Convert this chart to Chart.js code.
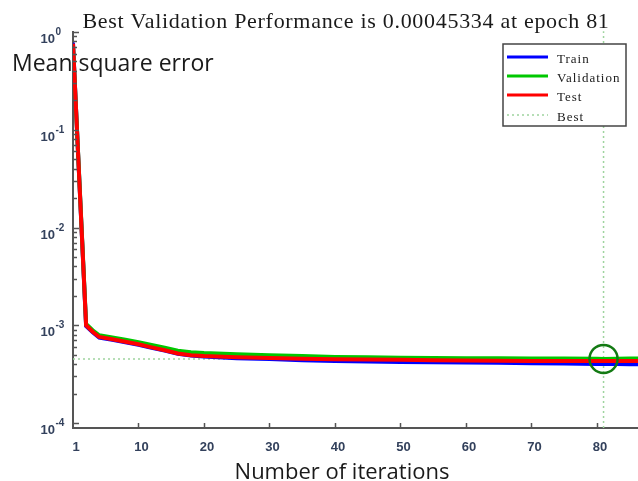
<!DOCTYPE html>
<html>
<head>
<meta charset="utf-8">
<script src="https://cdn.jsdelivr.net/npm/chart.js@4.4.0/dist/chart.umd.min.js"></script>
<style>
  html, body { margin: 0; padding: 0; background: #fff; }
  #wrap { width: 638px; height: 481px; position: relative; }
</style>
</head>
<body>
<div id="wrap"><canvas id="perf" width="638" height="481"></canvas></div>
<script>
// ---- Daten ----
const TITLE   = "Best Validation Performance is 0.00045334 at epoch 81";
const Y_TITLE = "Mean square error";
const X_TITLE = "Number of iterations";

const epochs = [0, 1, 2, 3, 4, 6, 8, 10, 12, 14, 16, 18, 20, 25, 30, 35, 40, 45, 50, 55, 60, 65, 70, 75, 80, 81, 83, 85, 87];
const train  = [0.78, 0.027, 9.8e-4, 8.5e-4, 7.5e-4, 7.1e-4, 6.7e-4, 6.3e-4, 5.9e-4, 5.5e-4, 5.1e-4, 4.9e-4, 4.8e-4, 4.6e-4, 4.52e-4, 4.4e-4, 4.3e-4, 4.25e-4, 4.21e-4, 4.19e-4, 4.16e-4, 4.13e-4, 4.1e-4, 4.06e-4, 4.02e-4, 4.02e-4, 4.01e-4, 4.0e-4, 4.0e-4];
const valid  = [0.74, 0.028, 1.03e-3, 8.9e-4, 7.9e-4, 7.5e-4, 7.1e-4, 6.7e-4, 6.3e-4, 5.9e-4, 5.5e-4, 5.3e-4, 5.2e-4, 5.05e-4, 4.95e-4, 4.85e-4, 4.75e-4, 4.7e-4, 4.66e-4, 4.64e-4, 4.6e-4, 4.59e-4, 4.58e-4, 4.57e-4, 4.56e-4, 4.5334e-4, 4.56e-4, 4.57e-4, 4.58e-4];
const test   = [0.76, 0.027, 1.0e-3, 8.6e-4, 7.6e-4, 7.2e-4, 6.8e-4, 6.4e-4, 5.95e-4, 5.55e-4, 5.15e-4, 4.95e-4, 4.85e-4, 4.7e-4, 4.62e-4, 4.56e-4, 4.5e-4, 4.47e-4, 4.44e-4, 4.4e-4, 4.36e-4, 4.34e-4, 4.32e-4, 4.31e-4, 4.31e-4, 4.31e-4, 4.31e-4, 4.3e-4, 4.3e-4];

const bestEpoch = 81;
const bestPerf  = 0.00045334;

const xTickValues = [0, 10, 20, 30, 40, 50, 60, 70, 80];
const xTickLabels = ["1", "10", "20", "30", "40", "50", "60", "70", "80"];
const yTickValues = [1e-4, 1e-3, 1e-2, 1e-1, 1];
const yTickExps   = ["-4", "-3", "-2", "-1", "0"];

const pts = (ys) => epochs.map((e, i) => ({ x: e, y: ys[i] }));

// ---- Plugins ----
const AXIS_COL = "#555";
const TICK_COL = "#33415c";

const innerTicks = {
  id: "innerTicks",
  afterDatasetsDraw(chart) {
    const { ctx, chartArea: a, scales: { x, y } } = chart;
    ctx.save();
    ctx.strokeStyle = AXIS_COL;
    ctx.lineWidth = 1.5;
    ctx.beginPath();
    // y: Haupt- und Nebenstriche nach innen
    for (let d = -4; d <= 0; d++) {
      for (let k = 1; k <= 9; k++) {
        const v = k * Math.pow(10, d);
        if (v > 1.0001) break;
        const py = Math.round(y.getPixelForValue(v)) + 0.5;
        ctx.moveTo(a.left, py);
        ctx.lineTo(a.left + (k === 1 ? 6 : 4), py);
      }
    }
    // x: Striche nach oben
    xTickValues.slice(1).forEach(v => {
      const px = Math.round(x.getPixelForValue(v)) + 0.5;
      ctx.moveTo(px, a.bottom);
      ctx.lineTo(px, a.bottom - 5);
    });
    ctx.stroke();

    // y-Beschriftung mit Hochzahl
    ctx.fillStyle = TICK_COL;
    yTickValues.forEach((v, i) => {
      const py = y.getPixelForValue(v);
      ctx.font = "bold 13px 'Liberation Sans'";
      ctx.textAlign = "right";
      ctx.textBaseline = "alphabetic";
      ctx.fillText("10", 55, py + 11);
      ctx.font = "bold 10px 'Liberation Sans'";
      ctx.textAlign = "left";
      ctx.fillText(yTickExps[i], 55.5, py + 3);
    });
    ctx.restore();
  }
};

const decorations = {
  id: "decorations",
  afterDraw(chart) {
    const { ctx } = chart;
    ctx.save();
    ctx.fillStyle = "#1a1a1a";
    ctx.textBaseline = "alphabetic";

    ctx.font = "22px 'Liberation Serif'";
    ctx.letterSpacing = "0.7px";
    ctx.textAlign = "center";
    ctx.fillText(TITLE, 346, 28);
    ctx.letterSpacing = "0px";

    ctx.font = "23px 'Open Sans'";
    ctx.textAlign = "left";
    ctx.fillText(Y_TITLE, 12, 71);

    ctx.font = "22px 'Open Sans'";
    ctx.textAlign = "center";
    ctx.fillText(X_TITLE, 342, 479);

    // Legende
    const bx = 503, by = 44, bw = 123, bh = 82;
    ctx.fillStyle = "#fff";
    ctx.fillRect(bx, by, bw, bh);
    ctx.strokeStyle = "#444";
    ctx.lineWidth = 1.5;
    ctx.strokeRect(bx, by, bw, bh);

    const rows = [57, 76, 95, 115];
    const items = [chart.data.datasets[2], chart.data.datasets[1], chart.data.datasets[0], chart.data.datasets[3]];
    items.forEach((ds, i) => {
      const ly = rows[i];
      ctx.beginPath();
      ctx.strokeStyle = ds.borderColor;
      ctx.lineWidth = i === 3 ? 1.5 : 3;
      ctx.setLineDash(i === 3 ? [2, 3] : []);
      ctx.moveTo(507, ly);
      ctx.lineTo(548, ly);
      ctx.stroke();
      ctx.setLineDash([]);
      ctx.fillStyle = "#1a1a1a";
      ctx.font = "13px 'Liberation Serif'";
      ctx.letterSpacing = "1px";
      ctx.textAlign = "left";
      ctx.textBaseline = "middle";
      ctx.fillText(ds.label, 557, ly + 3);
    });
    ctx.restore();
  }
};

// ---- Chart ----
const ctx = document.getElementById("perf").getContext("2d");
new Chart(ctx, {
  type: "line",
  data: {
    datasets: [
      { label: "Test", data: pts(test), borderColor: "#ff0000", borderWidth: 4, order: 1 },
      { label: "Validation", data: pts(valid), borderColor: "#00c800", borderWidth: 4, order: 2 },
      { label: "Train", data: pts(train), borderColor: "#0000ff", borderWidth: 4, order: 3 },
      { label: "Best", data: [{ x: 0, y: bestPerf }, { x: 87, y: bestPerf }],
        borderColor: "#9ed49e", borderWidth: 1.5, borderDash: [2, 3], order: 5 },
      { label: "BestV", data: [{ x: bestEpoch, y: 8.9e-5 }, { x: bestEpoch, y: 1.02 }],
        borderColor: "#9ed49e", borderWidth: 1.5, borderDash: [2, 3], order: 5, clip: false },
      { label: "BestP", data: [{ x: bestEpoch, y: bestPerf }], showLine: false,
        pointRadius: 14, pointBorderWidth: 2.5, pointBorderColor: "#137a13",
        pointBackgroundColor: "rgba(0,0,0,0)", order: 0 }
    ]
  },
  options: {
    responsive: false,
    animation: false,
    parsing: false,
    layout: { autoPadding: false, padding: { top: 32, left: 0, right: 0, bottom: 0 } },
    elements: { point: { radius: 0 }, line: { tension: 0 } },
    plugins: { legend: { display: false }, tooltip: { enabled: false } },
    scales: {
      x: {
        type: "linear", min: 0, max: 86.26,
        afterBuildTicks: (s) => { s.ticks = xTickValues.map(v => ({ value: v })); },
        afterFit: (s) => { s.height = 53; s.paddingRight = 0; },
        grid: { display: false, drawTicks: false },
        border: { display: true, color: AXIS_COL, width: 2 },
        ticks: {
          callback: (v) => xTickLabels[xTickValues.indexOf(v)],
          font: { family: "'Liberation Sans'", size: 13, weight: "bold" },
          color: TICK_COL, padding: 12, labelOffset: 3, maxRotation: 0
        }
      },
      y: {
        type: "logarithmic", min: 8.9e-5, max: 1,
        afterBuildTicks: (s) => { s.ticks = yTickValues.map(v => ({ value: v })); },
        afterFit: (s) => { s.width = 73; },
        grid: { display: false, drawTicks: false },
        border: { display: true, color: AXIS_COL, width: 2 },
        ticks: { display: false }
      }
    }
  },
  plugins: [innerTicks, decorations]
});
</script>
</body>
</html>
